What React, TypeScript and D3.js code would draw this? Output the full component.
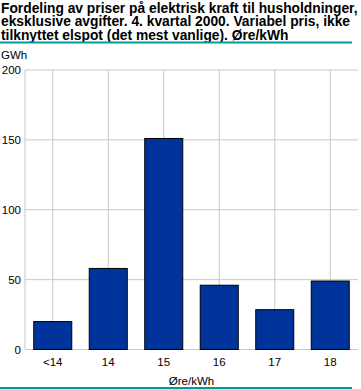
import React from "react";
import * as d3 from "d3";

const categories = ["<14", "14", "15", "16", "17", "18"];
const values = [20, 58, 151, 46, 28.5, 49];
const yTicks = [0, 50, 100, 150, 200];
const titleLines = [
  "Fordeling av priser på elektrisk kraft til husholdninger,",
  "eksklusive avgifter. 4. kvartal 2000. Variabel pris, ikke",
  "tilknyttet elspot (det mest vanlige). Øre/kWh",
];
const yUnit = "GWh";
const xTitle = "Øre/kWh";

export default function App() {
  const W = 361, H = 389;
  const left = 25, right = 358, top = 70, bottom = 349.5;
  const x = d3.scaleBand<string>().domain(categories).range([left, right]).paddingInner(0.315).paddingOuter(0.1575);
  const y = d3.scaleLinear().domain([0, 200]).range([bottom, top]);
  const font = "'Liberation Sans', Arial, sans-serif";
  return (
    <svg width={W} height={H} style={{ position: "absolute", left: 0, top: 0, background: "#fff" }} fontFamily={font}>
      {titleLines.map((t, i) => (
        <text key={i} x={1} y={12.5 + i * 13.5} fontSize={13.8} fontWeight="bold" fill="#000">{t}</text>
      ))}
      <rect x={0} y={41.5} width={352} height={2} fill="#009c9a" />
      <text x={1} y={59} fontSize={11.5} fill="#000">{yUnit}</text>
      {yTicks.map((t) => (
        <g key={t}>
          <line x1={left} x2={right} y1={y(t)} y2={y(t)} stroke="#c8c8c8" strokeWidth={1} />
          <text x={21} y={y(t) + 4} fontSize={11.5} textAnchor="end" fill="#000">{t}</text>
        </g>
      ))}
      <line x1={left} x2={left} y1={top} y2={bottom} stroke="#c8c8c8" />
      {categories.map((c) => (
        <line key={c} x1={x(c)! + x.bandwidth() / 2} x2={x(c)! + x.bandwidth() / 2} y1={top} y2={bottom} stroke="#c8c8c8" />
      ))}
      {categories.map((c, i) => (
        <rect key={c} x={x(c)!} y={y(values[i])} width={x.bandwidth()} height={bottom - y(values[i])} fill="#003399" stroke="#000" strokeWidth={1} />
      ))}
      {categories.map((c) => (
        <text key={c} x={x(c)! + x.bandwidth() / 2} y={366} fontSize={11.5} textAnchor="middle" fill="#000">{c}</text>
      ))}
      <text x={(left + right) / 2} y={385} fontSize={11.5} textAnchor="middle" fill="#000">{xTitle}</text>
      <rect x={0} y={387} width={352} height={2} fill="#009c9a" />
    </svg>
  );
}
